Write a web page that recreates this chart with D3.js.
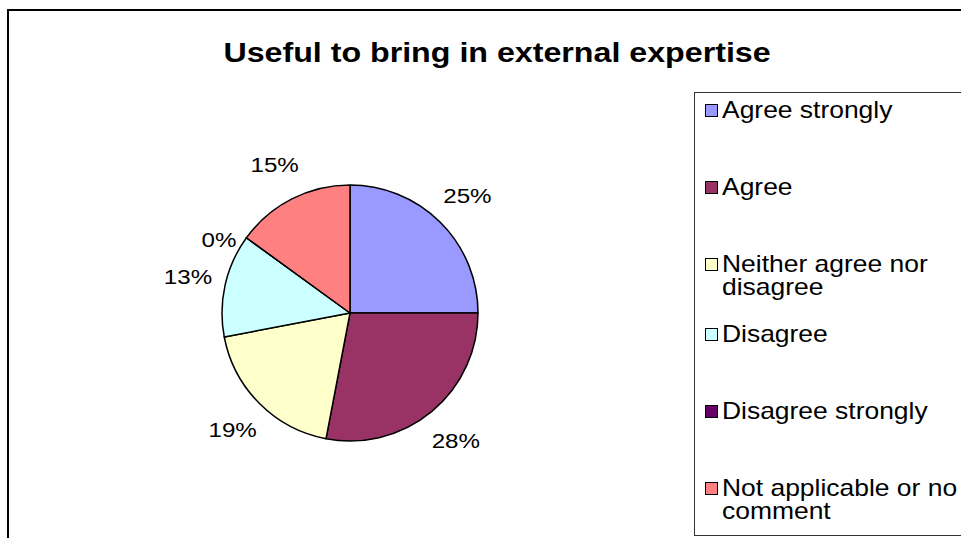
<!DOCTYPE html>
<html>
<head>
<meta charset="utf-8">
<script src="https://cdn.jsdelivr.net/npm/d3@7"></script>
<style>
  html, body { margin: 0; padding: 0; background: #fff; }
  svg { display: block; font-family: Arial, "Liberation Sans", sans-serif; }
</style>
</head>
<body>
<svg id="chart" width="961" height="538"></svg>
<script>
// Survey responses: "Useful to bring in external expertise"
const categories = [
  "Agree strongly",
  "Agree",
  "Neither agree nor disagree",
  "Disagree",
  "Disagree strongly",
  "Not applicable or no comment"
];
const percentages = [25, 28, 19, 13, 0, 15];
const legendLines = [
  ["Agree strongly"],
  ["Agree"],
  ["Neither agree nor", "disagree"],
  ["Disagree"],
  ["Disagree strongly"],
  ["Not applicable or no", "comment"]
];
const sliceColors = ["#9999FF", "#993366", "#FFFFCC", "#CCFFFF", "#660066", "#FF8080"];
const chartTitle = "Useful to bring in external expertise";

// Text in this chart is set slightly wide
const textStretch = 1.15;

const svg = d3.select("#chart");

// Chart area frame (runs off the right and bottom edges)
svg.append("rect")
  .attr("x", 8).attr("y", 10)
  .attr("width", 1000).attr("height", 600)
  .attr("fill", "#fff")
  .attr("stroke", "#000")
  .attr("stroke-width", 2);

// Title
svg.append("text")
  .attr("transform", `translate(497,62) scale(${textStretch},1)`)
  .attr("text-anchor", "middle")
  .attr("font-weight", "bold")
  .attr("font-size", 28)
  .attr("fill", "#000")
  .text(chartTitle);

// Pie
const cx = 350, cy = 313, radius = 128, labelRadius = 166;
const color = d3.scaleOrdinal().domain(categories).range(sliceColors);

const pie = d3.pie()
  .sort(null)
  .value(d => d.value)
  .startAngle(0)
  .endAngle(2 * Math.PI);

const data = categories.map((c, i) => ({ name: c, value: percentages[i] }));
const arcs = pie(data);

const arc = d3.arc().innerRadius(0).outerRadius(radius);

const g = svg.append("g").attr("transform", `translate(${cx},${cy})`);

g.selectAll("path.slice")
  .data(arcs)
  .join("path")
  .attr("class", "slice")
  .attr("d", arc)
  .attr("fill", d => color(d.data.name))
  .attr("stroke", "#000")
  .attr("stroke-width", 1.5)
  .attr("stroke-linejoin", "round");

// Percentage labels outside the pie; an empty slice's label is eased
// back toward its neighbour so it does not sit on top of it
g.selectAll("text.pct")
  .data(arcs)
  .join("text")
  .attr("class", "pct")
  .attr("transform", d => {
    let a = (d.startAngle + d.endAngle) / 2;
    let r = labelRadius;
    if (d.data.value === 0) { a -= 0.12; r = 150; }
    const x = Math.sin(a) * r;
    const y = -Math.cos(a) * r;
    return `translate(${x},${y}) scale(${textStretch},1)`;
  })
  .attr("text-anchor", "middle")
  .attr("dominant-baseline", "central")
  .attr("font-size", 21)
  .attr("fill", "#000")
  .text(d => d.data.value + "%");

// Legend
const legend = svg.append("g");
legend.append("rect")
  .attr("x", 694.5).attr("y", 92.5)
  .attr("width", 300).attr("height", 443)
  .attr("fill", "#fff")
  .attr("stroke", "#333")
  .attr("stroke-width", 1);

const lineHeight = 23;
let yPos = 110;
const items = categories.map((c, i) => {
  const it = { name: c, lines: legendLines[i], y: yPos };
  yPos += legendLines[i].length > 1 ? 70 : 77;
  return it;
});

const entry = legend.selectAll("g.entry")
  .data(items)
  .join("g")
  .attr("class", "entry")
  .attr("transform", d => `translate(705,${d.y})`);

entry.append("rect")
  .attr("x", 0.5).attr("y", -5.5)
  .attr("width", 12).attr("height", 12)
  .attr("fill", d => color(d.name))
  .attr("stroke", "#000")
  .attr("stroke-width", 1);

entry.append("text")
  .attr("transform", `translate(17,0) scale(${textStretch},1)`)
  .attr("font-size", 23)
  .attr("fill", "#000")
  .selectAll("tspan")
  .data(d => d.lines)
  .join("tspan")
  .attr("x", 0)
  .attr("y", (l, i) => i * lineHeight)
  .attr("dominant-baseline", "central")
  .text(l => l);
</script>
</body>
</html>
